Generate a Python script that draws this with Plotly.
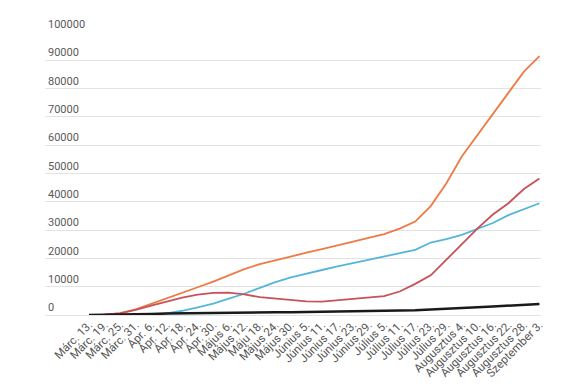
import plotly.graph_objects as go

# Day offsets from March 13 for each labelled date
days = [0, 6, 12, 18, 24, 30, 36, 42, 48, 54, 60, 66, 72, 78, 84, 90, 96, 102,
        108, 114, 120, 126, 132, 138, 144, 150, 156, 162, 168, 174]
labels = ["Márc. 13.", "Márc. 19.", "Márc. 25.", "Márc. 31.", "Ápr. 6.", "Ápr. 12.",
          "Ápr. 18.", "Ápr. 24.", "Ápr. 30.", "Május 6.", "Május 12.", "Máju 18.",
          "Május 24.", "Május 30.", "Június 5.", "Június 11.", "Június 17.", "Június 23.",
          "Június 29.", "Július 5.", "Július 11.", "Július 17.", "Július 23.", "Július 29.",
          "Augusztus 4.", "Augusztus 10.", "Augusztus 16.", "Augusztus 22.",
          "Augusztus 28.", "Szeptember 3."]

orange = [0, 100, 700, 2000, 3900, 5800, 7800, 9800, 11800, 14000, 16200, 18000,
          19400, 20600, 22000, 23300, 24600, 25800, 27200, 28600, 30500, 33000,
          38500, 46500, 56000, 63500, 71000, 78500, 86000, 91500]
blue = [0, 0, 0, 50, 150, 600, 1500, 2700, 4000, 5800, 7500, 9600, 11600, 13300,
        14700, 15900, 17200, 18400, 19600, 20700, 22000, 23000, 25600, 26800,
        28300, 30500, 32500, 35300, 37500, 39500]
red = [0, 100, 600, 1800, 3300, 4800, 6100, 7200, 7800, 7900, 7300, 6300, 5800,
       5300, 4800, 4700, 5200, 5700, 6300, 6700, 8300, 11000, 14000, 19500, 25000,
       30500, 35500, 39500, 44500, 48200]
black = [0, 30, 80, 200, 350, 500, 600, 700, 750, 800, 850, 900, 950, 1000, 1050,
         1100, 1200, 1300, 1400, 1500, 1600, 1700, 1900, 2100, 2400, 2700, 3000,
         3300, 3600, 3900]

y_ticks = [0, 10000, 20000, 30000, 40000, 50000, 60000, 70000, 80000, 90000, 100000]

fig = go.Figure()
fig.add_trace(go.Scatter(x=days, y=orange, mode="lines",
                         line=dict(color="#ee7a45", width=1.8)))
fig.add_trace(go.Scatter(x=days, y=blue, mode="lines",
                         line=dict(color="#55b6d9", width=1.8)))
fig.add_trace(go.Scatter(x=days, y=red, mode="lines",
                         line=dict(color="#c8525a", width=1.8)))
fig.add_trace(go.Scatter(x=days, y=black, mode="lines",
                         line=dict(color="#1a1a1a", width=2.5)))

fig.update_layout(
    width=575, height=387,
    margin=dict(l=45, r=34, t=32, b=72),
    paper_bgcolor="white", plot_bgcolor="white",
    showlegend=False,
    font=dict(family="Roboto, Arial, sans-serif"),
)
fig.update_xaxes(
    range=[-17, 174.6], automargin=False,
    tickmode="array", tickvals=days, ticktext=labels,
    tickangle=-45, showgrid=False, zeroline=False, showline=False,
    tickfont=dict(size=11.5, color="#555555"),
)
fig.update_yaxes(
    range=[0, 100000], automargin=False,
    tickmode="array", tickvals=y_ticks,
    ticktext=[str(v) for v in y_ticks],
    ticklabelposition="inside top", ticklabeloverflow="allow",
    ticklabelstandoff=0,
    showgrid=True, gridcolor="#e2e2e2", gridwidth=1,
    zeroline=True, zerolinecolor="#e2e2e2", zerolinewidth=1,
    showline=False,
    tickfont=dict(size=11, color="#5a5a5a"),
)

fig.write_html("out.html",
               config={"displayModeBar": False},
               post_script="document.body.style.margin='0';document.body.style.padding='0';")
